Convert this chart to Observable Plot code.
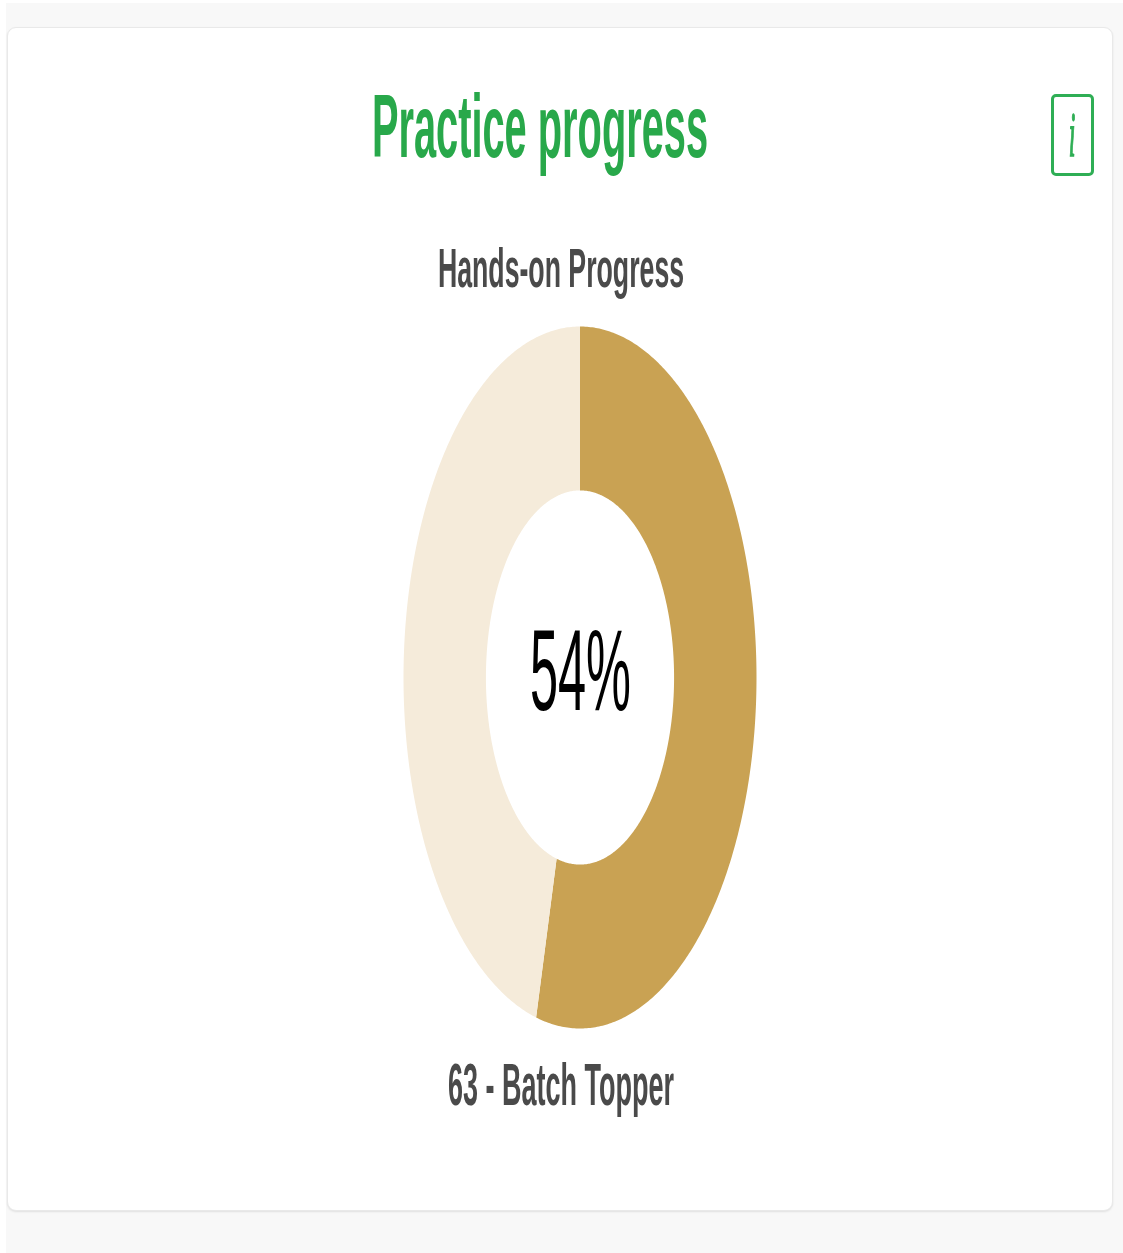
<!DOCTYPE html>
<html>
<head>
<meta charset="utf-8">
<script src="https://cdn.jsdelivr.net/npm/d3@7"></script>
<script src="https://cdn.jsdelivr.net/npm/@observablehq/plot@0.6"></script>
<style>
html,body{margin:0;padding:0;background:#fff;width:1123px;height:1253px;overflow:hidden}
#root{position:absolute;left:0;top:0;width:1123px;height:1253px;overflow:hidden;filter:blur(.7px)}
#panel{position:absolute;left:6px;top:3px;right:0;bottom:0;background:#f8f8f8}
#card{position:absolute;left:7px;top:27px;width:1104px;height:1182px;background:#fff;border:1.5px solid #e9e9e9;border-radius:9px;box-shadow:0 1px 2px #e0e0e0}
#chart{position:absolute;left:0;top:0}
.t{position:absolute;width:700px;margin-left:-350px;text-align:center;line-height:1;white-space:nowrap;font-family:"Liberation Sans",Arial,sans-serif;transform-origin:50% 84.65%}
#info{position:absolute;left:1051px;top:94px;width:37px;height:76px;border:3px solid #2fae55;border-radius:5px}
</style>
</head>
<body>
<div id="root">
  <div id="panel"></div>
  <div id="card"></div>
  <div id="chart"></div>
  <div id="info"></div>
</div>
<script>
const segments = ["Hands-on Progress", "Remaining"];
const percents = [54, 46];
const segmentColors = ["#c9a253", "#f5ebda"];
const titleText = "Practice progress";
const topLabel = "Hands-on Progress";
const centerLabel = "54%";
const bottomLabel = "63 - Batch Topper";
const holeRatio = 0.533;

const pie = d3.pie().sort(null)(percents);
const outline = [];
pie.forEach((p, k) => {
  const steps = Math.ceil((p.endAngle - p.startAngle) / 0.01);
  const at = (i) => p.startAngle + (p.endAngle - p.startAngle) * i / steps;
  for (let i = 0; i <= steps; i++) outline.push({segment: segments[k], x: Math.sin(at(i)), y: -Math.cos(at(i))});
  for (let i = steps; i >= 0; i--) outline.push({segment: segments[k], x: holeRatio * Math.sin(at(i)), y: -holeRatio * Math.cos(at(i))});
});

const plot = Plot.plot({
  width: 1123,
  height: 1253,
  margin: 0,
  style: {background: "transparent"},
  x: {domain: [-1, 1], range: [403, 756], axis: null},
  y: {domain: [-1, 1], range: [326, 1028], axis: null},
  color: {domain: segments, range: segmentColors},
  marks: [
    Plot.line(outline, {x: "x", y: "y", fill: "segment", stroke: "none", curve: "linear"})
  ]
});
document.getElementById("chart").append(plot);

function addText(text, cx, baseline, capHeight, fontPx, weight, color, extra = {}) {
  const el = document.createElement("div");
  el.className = "t";
  el.textContent = text;
  const sy = capHeight / (fontPx * 0.716);
  Object.assign(el.style, {
    left: cx + "px",
    top: (baseline - 0.8465 * fontPx) + "px",
    fontSize: fontPx + "px",
    fontWeight: weight,
    color,
    transform: `scaleY(${sy})`
  }, extra);
  document.getElementById("root").append(el);
}
addText(titleText, 540, 159, 64, 39.8, 700, "#28a84a");
addText(topLabel, 561, 289, 40, 26.7, 700, "#4a4a4a");
addText(bottomLabel, 561, 1107, 42, 27, 700, "#4a4a4a");
addText(centerLabel, 580.5, 712, 82, 50.5, 400, "#000");
addText("i", 1072, 157, 45, 24, 400, "#2fae55", {fontFamily: '"Liberation Serif",serif', fontStyle: "italic", webkitTextStroke: "0.6px #2fae55"});
</script>
</body>
</html>
